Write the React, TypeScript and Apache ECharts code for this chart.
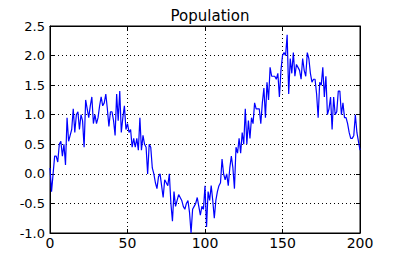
import React, { useEffect, useRef } from "react";
import * as echarts from "echarts";

const title = "Population";
const xTicks = [0, 50, 100, 150, 200];
const yTicks = [-1.0, -0.5, 0.0, 0.5, 1.0, 1.5, 2.0, 2.5];
const population = [
  0.1, -0.3, 0.0, 0.3, 0.3, 0.2, 0.5, 0.55, 0.3, 0.5,
  0.15, 0.95, 0.55, 0.65, 0.75, 1.1, 0.7, 1.0, 1.05, 0.75,
  1.0, 0.9, 0.45, 1.25, 1.1, 0.95, 1.15, 1.3, 0.85, 1.0,
  0.85, 0.95, 1.15, 1.3, 1.15, 1.2, 1.35, 1.1, 0.8, 1.05,
  1.05, 0.9, 0.65, 1.35, 0.9, 1.4, 0.7, 0.95, 1.15, 0.75,
  0.85, 0.7, 0.75, 0.45, 0.6, 0.45, 0.6, 0.4, 0.95, 0.4,
  0.65, 0.5, 0.45, 0.0, 0.5, 0.45, 0.1, 0.0, -0.15, -0.25,
  -0.05, 0.0, -0.2, -0.4, -0.1, -0.15, -0.2, 0.0, -0.5, -0.8,
  -0.3, -0.55, -0.45, -0.35, -0.4, -0.45, -0.55, -0.6, -0.5, -0.45,
  -0.65, -1.0, -0.6, -0.55, -0.5, -0.4, -0.55, -0.7, -0.55, -0.6,
  -0.2, -0.9, -0.3, -0.45, -0.2, -0.45, -0.75, -0.45, -0.3, -0.2,
  -0.15, 0.25, 0.0, -0.1, 0.0, -0.2, 0.1, 0.3, 0.1, -0.25,
  0.45, 0.35, 0.6, 0.35, 0.7, 0.5, 1.1, 0.5, 0.9, 0.6,
  0.95, 0.85, 1.2, 1.1, 1.1, 1.1, 0.85, 1.2, 1.45, 0.95,
  1.55, 1.25, 1.8, 1.65, 1.65, 1.65, 1.6, 1.7, 1.3, 1.75,
  2.0, 2.05, 2.0, 2.35, 1.35, 1.95, 1.7, 2.05, 1.65, 1.85,
  1.8, 1.75, 1.6, 1.95, 1.75, 1.65, 2.05, 1.95, 1.7, 1.55,
  1.6, 1.6, 1.35, 0.95, 1.55, 1.5, 1.8, 1.3, 1.65, 1.0,
  1.1, 1.3, 0.75, 1.3, 1.0, 1.05, 1.4, 1.4, 1.0, 1.2,
  0.95, 0.95, 0.85, 0.7, 0.6, 0.6, 0.65, 1.0, 0.7, 0.55,
  0.4,
];

export default function App() {
  const ref = useRef<HTMLDivElement>(null);
  useEffect(() => {
    if (!ref.current) return;
    const chart = echarts.init(ref.current, undefined, { renderer: "svg" });
    const font = "DejaVu Sans";
    const tickStyle = { show: true, inside: true, length: 4, lineStyle: { color: "#000", width: 1 } };
    const dotted = { show: true, lineStyle: { color: "#000", type: [1, 3] as any, width: 1 } };
    const axisLine = { show: true, onZero: false, lineStyle: { color: "#000", width: 1 } };
    chart.setOption({
      animation: false,
      backgroundColor: "#fff",
      title: {
        text: title,
        left: 205,
        textAlign: "center",
        top: 3,
        textStyle: { fontFamily: font, fontSize: 15, fontWeight: "normal", color: "#000" },
      },
      grid: {
        left: 50,
        top: 26,
        width: 310,
        height: 207,
        show: true,
        borderColor: "#000",
        borderWidth: 1,
        backgroundColor: "#fff",
      },
      xAxis: [
        {
          type: "value",
          min: xTicks[0],
          max: xTicks[xTicks.length - 1],
          interval: 50,
          axisLine,
          axisTick: tickStyle,
          axisLabel: { fontFamily: font, fontSize: 14, color: "#000", margin: 3 },
          splitLine: dotted,
        },
        {
          type: "value",
          position: "top",
          min: xTicks[0],
          max: xTicks[xTicks.length - 1],
          interval: 50,
          axisLine,
          axisTick: tickStyle,
          axisLabel: { show: false },
          splitLine: { show: false },
        },
      ],
      yAxis: [
        {
          type: "value",
          min: yTicks[0],
          max: yTicks[yTicks.length - 1],
          interval: 0.5,
          axisLine,
          axisTick: tickStyle,
          axisLabel: {
            fontFamily: font,
            fontSize: 13,
            color: "#000",
            margin: 5,
            formatter: (v: number) => v.toFixed(1),
          },
          splitLine: dotted,
        },
        {
          type: "value",
          position: "right",
          min: yTicks[0],
          max: yTicks[yTicks.length - 1],
          interval: 0.5,
          axisLine,
          axisTick: tickStyle,
          axisLabel: { show: false },
          splitLine: { show: false },
        },
      ],
      series: [
        {
          type: "line",
          data: population.map((v, i) => [i, v]),
          showSymbol: false,
          lineStyle: { color: "#0000ff", width: 1.2 },
          itemStyle: { color: "#0000ff" },
          clip: true,
        },
      ],
    });
    return () => chart.dispose();
  }, []);
  return (
    <div
      ref={ref}
      style={{ position: "absolute", left: 0, top: 0, width: 400, height: 259, background: "#fff" }}
    />
  );
}
